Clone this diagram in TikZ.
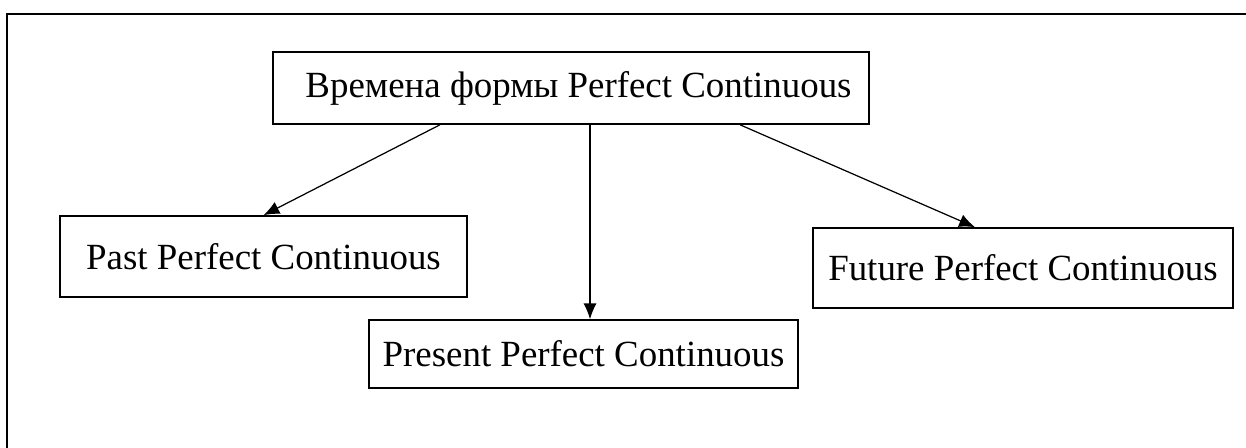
\documentclass[tikz,border=0pt]{standalone}
\usepackage{fontspec}
\setmainfont{Liberation Serif}
\usepackage{tikz}
\usetikzlibrary{arrows.meta}

\begin{document}
\begin{tikzpicture}[
  tense/.style={draw,line width=0.9pt,inner sep=0pt,font=\fontsize{21}{25}\selectfont},
  link/.style={-{Latex[length=9pt,width=7.5pt]},line width=0.7pt}]
  \useasboundingbox (0,0) rectangle (24.92,8.96);
  \draw[line width=1.4pt] (0.14,0) -- (0.14,8.68) -- (24.92,8.68);

  \node[tense,minimum width=11.92cm,minimum height=1.44cm] (title) at (11.42,7.20) {\hspace*{0.3cm}Времена формы Perfect Continuous};
  \node[tense,minimum width=8.14cm,minimum height=1.62cm] (past) at (5.27,3.83) {Past Perfect Continuous};
  \node[tense,minimum width=8.58cm,minimum height=1.36cm] (present) at (11.67,1.88) {Present Perfect Continuous};
  \node[tense,minimum width=8.40cm,minimum height=1.60cm] (future) at (20.46,3.60) {Future Perfect Continuous};

  \path [link] ([xshift=-2.62cm]title.south) edge (past.north);
  \path [link] ([xshift=0.38cm]title.south) edge ([xshift=0.13cm]present.north);
  \path [link] ([xshift=3.38cm]title.south) edge ([xshift=-0.96cm]future.north);
\end{tikzpicture}
\end{document}
